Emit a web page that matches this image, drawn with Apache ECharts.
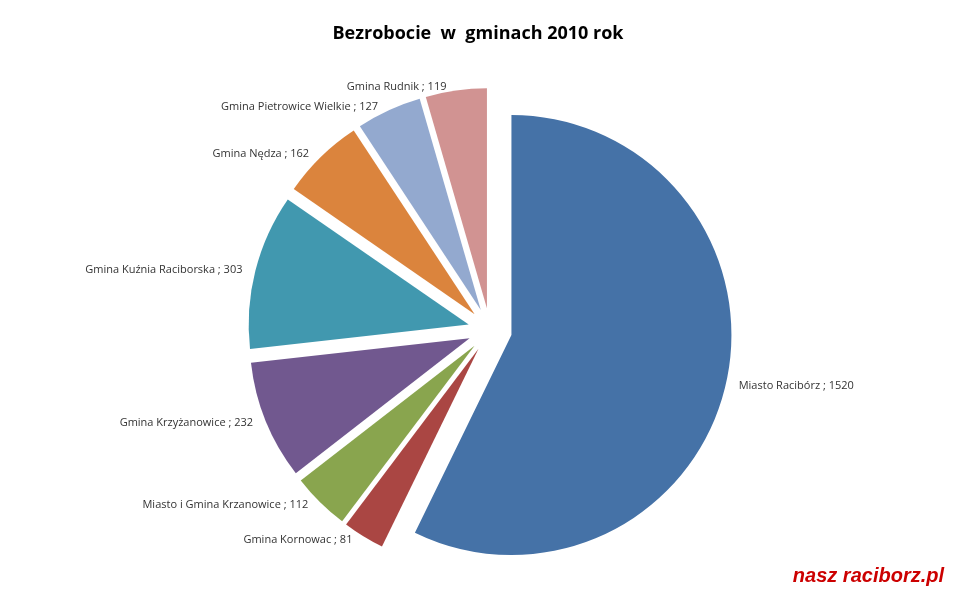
<!DOCTYPE html>
<html>
<head>
    <meta charset="utf-8">
    <title>Bezrobocie</title>
    <script src="https://cdn.jsdelivr.net/npm/echarts/dist/echarts.min.js"></script>
</head>
<body style="margin:0">
    <div id="main" style="width: 956px;height:600px;"></div>
    <script>
        // Racibórz value is cut off in the picture
        var names = ['Miasto Racibórz', 'Gmina Kornowac', 'Miasto i Gmina Krzanowice', 'Gmina Krzyżanowice',
            'Gmina Kuźnia Raciborska', 'Gmina Nędza', 'Gmina Pietrowice Wielkie', 'Gmina Rudnik'];
        var values = [1520, 81, 112, 232, 303, 162, 127, 119];
        var colors = ['#4572a7', '#aa4643', '#89a54e', '#71588f', '#4198af', '#db843d', '#93a9cf', '#d19392'];

        var myChart = echarts.init(document.getElementById('main'));
        var option = {
            backgroundColor: '#fff',
            title: {
                text: 'Bezrobocie  w  gminach 2010 rok',
                left: 'center',
                top: 20,
                textStyle: { fontFamily: 'Open Sans', fontSize: 18, fontWeight: 'bold', color: '#000' }
            },
            graphic: [{
                type: 'text', right: 12, bottom: 14,
                style: { text: 'nasz raciborz.pl', fill: '#c00', font: 'italic bold 20px Arial' }
            }],
            series: [{
                type: 'pie',
                center: ['490', '330'],
                radius: 220,
                startAngle: 90,
                clockwise: true,
                selectedMode: 'multiple',
                selectedOffset: 22,
                data: names.map(function (n, i) {
                    return { name: n, value: values[i], selected: true, itemStyle: { color: colors[i] } };
                }),
                label: {
                    show: true,
                    position: 'outside',
                    formatter: '{b} ; {c}',
                    color: '#333',
                    fontFamily: 'Open Sans',
                    fontSize: 11
                },
                labelLine: { show: false, length: 4, length2: 4 },
                emphasis: { scale: false }
            }]
        };
        myChart.setOption(option);
    </script>
</body>
</html>
